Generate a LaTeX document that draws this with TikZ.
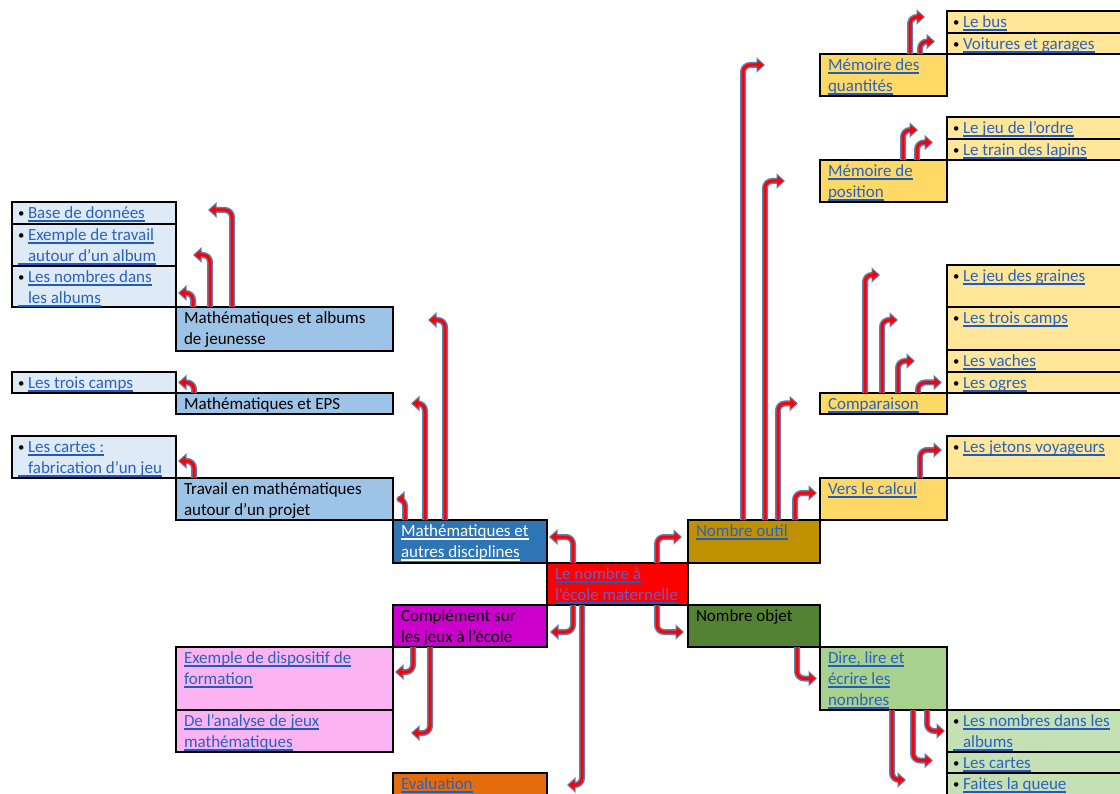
\documentclass[tikz,border=0pt]{standalone}
\usepackage{fontspec}
\setmainfont{Carlito}
\usetikzlibrary{arrows.meta,calc}
\definecolor{lbl}{HTML}{DEEBF7}
\definecolor{mbl}{HTML}{9DC3E6}
\definecolor{dbl}{HTML}{2E75B6}
\definecolor{mag}{HTML}{CC00CC}
\definecolor{pnk}{HTML}{FCB3F2}
\definecolor{org}{HTML}{E46C0A}
\definecolor{gld}{HTML}{BF9000}
\definecolor{dgr}{HTML}{548235}
\definecolor{lgr}{HTML}{A9D18E}
\definecolor{vgr}{HTML}{C5E0B4}
\definecolor{yel}{HTML}{FFD966}
\definecolor{lye}{HTML}{FFE699}
\definecolor{lk}{HTML}{2A62C0}
\definecolor{ulc}{HTML}{1F5BC0}
\definecolor{rt}{HTML}{6B5CC8}
\definecolor{arrb}{HTML}{5B7FB5}
\newlength\ulw
\newcommand\ul[1]{\leavevmode\settowidth{\ulw}{#1}\rlap{\rule[-3.5pt]{\ulw}{1.6pt}}#1}
\newcommand\ulb[1]{\leavevmode\settowidth{\ulw}{#1}\rlap{{\color{ulc}\rule[-3.5pt]{\ulw}{1.6pt}}}#1}
\newcommand\lk[1]{{\color{lk}\ulb{#1}}}
\newcommand\bul{\makebox[10pt][l]{\color{black}\raisebox{0.8pt}{\scalebox{0.75}{\textbullet}}}}
\newcommand\ind{\hspace*{10pt}}
\tikzset{
 bx/.style={draw=black, line width=1.2pt, inner sep=0pt, outer sep=0pt},
 tx/.style={inner sep=0pt, outer sep=0pt, font=\fontsize{17}{21}\selectfont, anchor=base west},
 arr/.style={draw=arrb, line width=6pt, rounded corners=7pt, -{Triangle[length=8.5pt,width=15pt]},
   postaction={draw=red, line width=3pt, -{Triangle[length=6pt,width=9.5pt]}, shorten >=1.6pt}}
}
% name, x, y, w, h, fill, text
\newcommand\bbox[7]{%
 \node[bx, fill=#6, minimum width=#4pt, minimum height=#5pt, anchor=north west] (#1) at (#2,#3) {};
 \node[tx] (#1t) at ($(#1.north west)+(8,16.5)$) {\parbox[t]{#4pt}{\leavevmode#7}};
}
\newcommand\lbox[7]{%
 \node[bx, fill=#6, minimum width=#4pt, minimum height=#5pt, anchor=north west] (#1) at (#2,#3) {};
 \node[tx] (#1t) at ($(#1.north west)+(6,16.5)$) {\parbox[t]{#4pt}{\leavevmode#7}};
}
\begin{document}
\begin{tikzpicture}[x=1pt,y=-1pt]
\useasboundingbox (0,0) rectangle (1120,794);
\fill[white] (0,0) rectangle (1120,794);
% left side
\lbox{lb1}{12}{202}{164}{22}{lbl}{\bul\lk{Base de données}}
\lbox{lb2}{12}{224}{164}{42}{lbl}{\bul\lk{Exemple de travail}\\\lk{\ind autour d’un album}}
\lbox{lb3}{12}{266}{164}{41}{lbl}{\bul\lk{Les nombres dans}\\\lk{\ind les albums}}
\bbox{malb}{176}{307}{217}{44}{mbl}{Mathématiques et albums\\de jeunesse}
\lbox{lb4}{12}{372}{164}{21}{lbl}{\bul\lk{Les trois camps}}
\bbox{meps}{176}{393}{217}{21}{mbl}{Mathématiques et EPS}
\lbox{lb5}{12}{436}{164}{42}{lbl}{\bul\lk{Les cartes :}\\\lk{\ind fabrication d’un jeu}}
\bbox{mproj}{176}{478}{217}{42}{mbl}{Travail en mathématiques\\autour d’un projet}
\bbox{mad}{393}{520}{154}{43}{dbl}{\color{white}\ul{Mathématiques et}\\\ul{autres disciplines}}
\bbox{root}{547}{563}{141}{42}{red}{\color{rt}\ulb{Le nombre à}\\\ulb{l’école maternelle}}
\bbox{comp}{393}{605}{154}{42}{mag}{Complément sur\\les jeux à l’école}
\bbox{pk1}{176}{647}{217}{63}{pnk}{\lk{Exemple de dispositif de}\\\lk{formation}}
\bbox{pk2}{176}{710}{217}{42}{pnk}{\lk{De l’analyse de jeux}\\\lk{mathématiques}}
\bbox{eval}{393}{773}{154}{30}{org}{\lk{Evaluation}}
% right side
\bbox{nout}{688}{520}{132}{43}{gld}{\lk{Nombre outil}}
\bbox{nobj}{688}{605}{132}{42}{dgr}{Nombre objet}
\bbox{dire}{820}{647}{127}{63}{lgr}{\lk{Dire, lire et}\\\lk{écrire les}\\\lk{nombres}}
\lbox{g1}{947}{710}{180}{42}{vgr}{\bul\lk{Les nombres dans les}\\\lk{\ind albums}}
\lbox{g2}{947}{752}{180}{21}{vgr}{\bul\lk{Les cartes}}
\lbox{g3}{947}{773}{180}{30}{vgr}{\bul\lk{Faites la queue}}
\bbox{calc}{820}{478}{127}{42}{yel}{\lk{Vers le calcul}}
\lbox{y1}{947}{436}{180}{42}{lye}{\bul\lk{Les jetons voyageurs}}
\bbox{cmp}{820}{393}{127}{21}{yel}{\lk{Comparaison}}
\lbox{y2}{947}{265}{180}{42}{lye}{\bul\lk{Le jeu des graines}}
\lbox{y3}{947}{307}{180}{43}{lye}{\bul\lk{Les trois camps}}
\lbox{y4}{947}{350}{180}{22}{lye}{\bul\lk{Les vaches}}
\lbox{y5}{947}{372}{180}{21}{lye}{\bul\lk{Les ogres}}
\bbox{mpos}{820}{160}{127}{42}{yel}{\lk{Mémoire de}\\\lk{position}}
\lbox{y6}{947}{117}{180}{22}{lye}{\bul\lk{Le jeu de l’ordre}}
\lbox{y7}{947}{139}{180}{21}{lye}{\bul\lk{Le train des lapins}}
\bbox{mqt}{820}{54}{127}{42}{yel}{\lk{Mémoire des}\\\lk{quantités}}
\lbox{y8}{947}{11}{180}{22}{lye}{\bul\lk{Le bus}}
\lbox{y9}{947}{33}{180}{21}{lye}{\bul\lk{Voitures et garages}}
% arrows from root
\draw[arr] ([xshift=26pt]root.north west) |- ([xshift=2pt,yshift=4.5pt]mad.east);
\draw[arr] ([xshift=110pt]root.north west) |- ([xshift=-6pt,yshift=4.5pt]nout.west);
\draw[arr] ([xshift=26pt]root.south west) |- ([xshift=3pt,yshift=-6pt]comp.east);
\draw[arr] ([xshift=110pt]root.south west) |- ([xshift=-4pt,yshift=-6pt]nobj.west);
\draw[arr] ([xshift=35pt]root.south west) |- ([xshift=20pt,yshift=-12pt]eval.north east);
% from mad
\draw[arr] ([xshift=12pt]mad.north west) |- ([xshift=3pt]mproj.east);
\draw[arr] ([xshift=32pt]mad.north west) |- ([xshift=18pt]meps.east);
\draw[arr] ([xshift=52pt]mad.north west) |- ([xshift=35pt,yshift=9pt]malb.east);
% from malb
\draw[arr] ([xshift=17pt]malb.north west) |- ([xshift=2pt,yshift=-6.5pt]lb3.east);
\draw[arr] ([xshift=34pt]malb.north west) |- ([xshift=17pt,yshift=-10pt]lb2.east);
\draw[arr] ([xshift=56pt]malb.north west) |- ([xshift=32pt,yshift=3pt]lb1.east);
\draw[arr] ([xshift=18pt]meps.north west) |- ([xshift=2pt]lb4.east);
\draw[arr] ([xshift=18pt]mproj.north west) |- ([xshift=2pt,yshift=-4pt]lb5.east);
% from comp
\draw[arr] ([xshift=20pt]comp.south west) |- ([xshift=2pt,yshift=6.5pt]pk1.east);
\draw[arr] ([xshift=37pt]comp.south west) |- ([xshift=18pt,yshift=-2pt]pk2.east);
% from nout
\draw[arr] ([xshift=55pt]nout.north west) |- ([xshift=-55pt,yshift=10pt]mqt.west);
\draw[arr] ([xshift=77pt]nout.north west) |- ([xshift=-35pt]mpos.west);
\draw[arr] ([xshift=90pt]nout.north west) |- ([xshift=-22pt]cmp.west);
\draw[arr] ([xshift=107pt]nout.north west) |- ([xshift=-3pt,yshift=6pt]calc.west);
% from nobj
\draw[arr] ([xshift=109pt]nobj.south west) |- ([xshift=-3pt]dire.west);
% from dire
\draw[arr] ([xshift=107pt]dire.south west) |- ([xshift=-2pt]g1.west);
\draw[arr] ([xshift=93pt]dire.south west) |- ([xshift=-14pt,yshift=2pt]g2.west);
\draw[arr] ([xshift=72pt]dire.south west) |- ([xshift=-41pt,yshift=8pt]g3.west);
% from calc
\draw[arr] ([xshift=100pt]calc.north west) |- ([xshift=-5pt,yshift=7pt]y1.west);
% from cmp
\draw[arr] ([xshift=45pt]cmp.north west) |- ([xshift=-67pt,yshift=11pt]y2.west);
\draw[arr] ([xshift=62pt]cmp.north west) |- ([xshift=-49pt,yshift=8.5pt]y3.west);
\draw[arr] ([xshift=78pt]cmp.north west) |- ([xshift=-32pt]y4.west);
\draw[arr] ([xshift=98pt]cmp.north west) |- ([xshift=-5pt]y5.west);
% from mpos
\draw[arr] ([xshift=83pt]mpos.north west) |- ([xshift=-29pt,yshift=-2pt]y6.west);
\draw[arr] ([xshift=97pt]mpos.north west) |- ([xshift=-14pt,yshift=7pt]y7.west);
% from mqt
\draw[arr] ([xshift=90pt]mqt.north west) |- ([xshift=-22pt,yshift=5pt]y8.west);
\draw[arr] ([xshift=100pt]mqt.north west) |- ([xshift=-12pt,yshift=2pt]y9.west);
\end{tikzpicture}
\end{document}
